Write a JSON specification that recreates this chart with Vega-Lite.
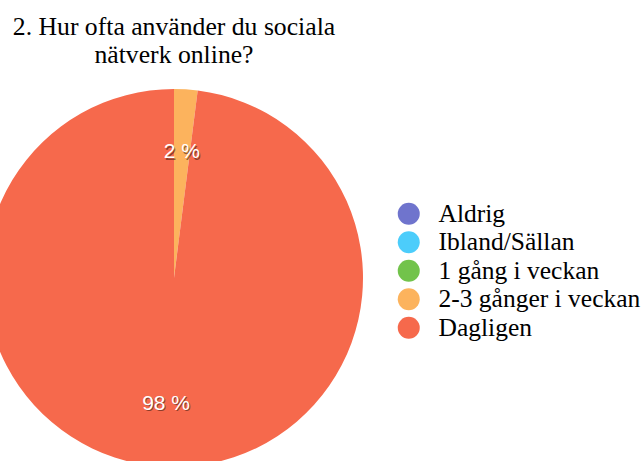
{
  "$schema": "https://vega.github.io/schema/vega-lite/v6.json",
  "autosize": "none",
  "width": 348,
  "height": 378,
  "padding": {"left": 0, "top": 89, "right": 296, "bottom": 0},
  "background": "white",
  "title": {
    "text": ["2. Hur ofta använder du sociala", "nätverk online?"],
    "font": "Liberation Serif",
    "fontSize": 25.7,
    "fontWeight": "normal",
    "color": "#000000",
    "lineHeight": 28,
    "anchor": "middle",
    "offset": 20
  },
  "data": {
    "values": [
      {"svar": "Aldrig", "andel": 0, "etikett": "0 %"},
      {"svar": "Ibland/Sällan", "andel": 0, "etikett": "0 %"},
      {"svar": "1 gång i veckan", "andel": 0, "etikett": "0 %"},
      {"svar": "2-3 gånger i veckan", "andel": 2, "etikett": "2 %"},
      {"svar": "Dagligen", "andel": 98, "etikett": "98 %"}
    ]
  },
  "config": {
    "view": {"stroke": null},
    "style": {"guide-label": {"font": "Liberation Serif"}}
  },
  "layer": [
    {
      "mark": {"type": "arc", "outerRadius": 189},
      "encoding": {
        "theta": {"field": "andel", "type": "quantitative", "stack": true},
        "color": {
          "field": "svar",
          "type": "nominal",
          "scale": {
            "domain": ["Aldrig", "Ibland/Sällan", "1 gång i veckan", "2-3 gånger i veckan", "Dagligen"],
            "range": ["#6f74cd", "#4ccdfb", "#72c34b", "#fcb35d", "#f6694c"]
          },
          "legend": {
            "title": null,
            "orient": "none",
            "legendX": 396,
            "legendY": 112,
            "symbolType": "circle",
            "symbolSize": 484,
            "symbolStrokeWidth": 0,
            "symbolOpacity": 1,
            "labelFont": "Liberation Serif",
            "labelFontSize": 25.5,
            "labelColor": "#000000",
            "labelOffset": 17,
            "rowPadding": 1.5,
            "labelLimit": 400,
            "padding": 0
          }
        }
      }
    },
    {
      "transform": [{"filter": "datum.andel > 0"}],
      "mark": {"type": "text", "radius": 126, "font": "Liberation Sans", "fontSize": 21, "fill": "#3a1a10", "opacity": 0.55, "dx": 1, "dy": 1.5, "baseline": "middle", "align": "center"},
      "encoding": {
        "theta": {"field": "andel", "type": "quantitative", "stack": true},
        "text": {"field": "etikett", "type": "nominal"}
      }
    },
    {
      "transform": [{"filter": "datum.andel > 0"}],
      "mark": {"type": "text", "radius": 126, "font": "Liberation Sans", "fontSize": 21, "fill": "#ffffff", "baseline": "middle", "align": "center"},
      "encoding": {
        "theta": {"field": "andel", "type": "quantitative", "stack": true},
        "text": {"field": "etikett", "type": "nominal"}
      }
    }
  ]
}
